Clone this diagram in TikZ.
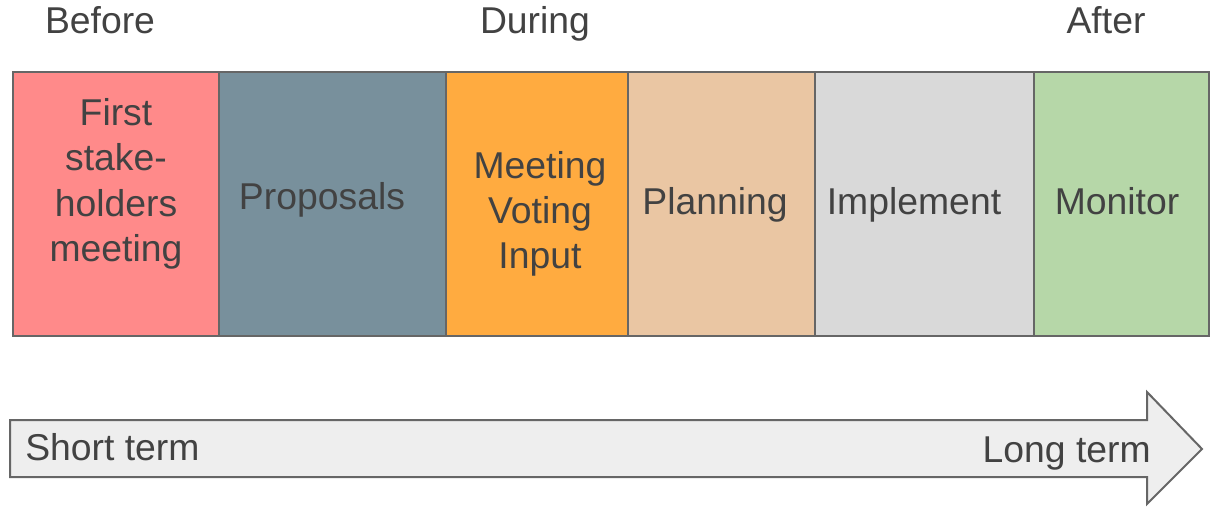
\documentclass[tikz,border=0pt]{standalone}
\usepackage{fontspec}
\setmainfont{Liberation Sans}
\definecolor{txt}{HTML}{424242}
\definecolor{edge}{HTML}{666666}
\definecolor{cpink}{HTML}{FF8A8A}
\definecolor{cslate}{HTML}{78909C}
\definecolor{corange}{HTML}{FFAB40}
\definecolor{cpeach}{HTML}{EAC6A3}
\definecolor{cgray}{HTML}{D9D9D9}
\definecolor{cgreen}{HTML}{B6D7A8}
\definecolor{carrow}{HTML}{EEEEEE}
\begin{document}
\begin{tikzpicture}[x=0.75pt,y=-0.75pt,
  phase/.style={draw=edge,line width=1.5pt},
  lbl/.style={text=txt,font=\fontsize{28}{34}\selectfont,align=center,inner sep=0pt},
]
\useasboundingbox (0,0) rectangle (1212,509);
% boxes
\path[phase,fill=cpink]   (13,72) rectangle (219,336) coordinate (b1);
\path[phase,fill=cslate]  (219,72) rectangle (446,336) coordinate (b2);
\path[phase,fill=corange] (446,72) rectangle (628,336) coordinate (b3);
\path[phase,fill=cpeach]  (628,72) rectangle (815,336) coordinate (b4);
\path[phase,fill=cgray]   (815,72) rectangle (1034,336) coordinate (b5);
\path[phase,fill=cgreen]  (1034,72) rectangle (1209,336) coordinate (b6);
% box labels
\node[lbl] (t1) at (116,184) {First\\stake-\\holders\\meeting};
\node[lbl,anchor=base] (t2) at (322,210) {Proposals};
\node[lbl] (t3) at (540,214) {Meeting\\Voting\\Input};
\node[lbl,anchor=base] (t4) at (715,215) {Planning};
\node[lbl,anchor=base] (t5) at (914,215) {Implement};
\node[lbl,anchor=base] (t6) at (1117,215) {Monitor};
% headings
\node[lbl,anchor=base] (h1) at (100,34) {Before};
\node[lbl,anchor=base] (h2) at (535,34) {During};
\node[lbl,anchor=base] (h3) at (1106,34) {After};
% arrow
\draw[phase,fill=carrow,line join=miter] (10,420) -- (1147,420) -- (1147,392) -- (1202,449)
  -- (1147,504) -- (1147,477) -- (10,477) -- cycle;
\node[lbl,anchor=base west] (s) at (25,460) {Short term};
\node[lbl,anchor=base east] (l) at (1151,462) {Long term};
\end{tikzpicture}
\end{document}
